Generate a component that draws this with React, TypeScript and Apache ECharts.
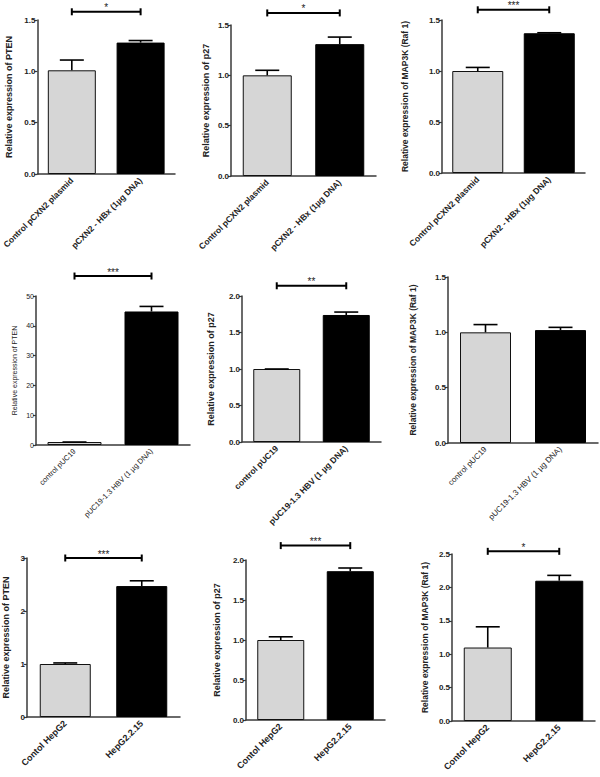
import React, { useEffect, useRef } from "react";
import * as echarts from "echarts";

// Categories
const catsPCXN2 = ["Control pCXN2 plasmid", "pCXN2 - HBx (1µg DNA)"];
const catsPUC19 = ["control pUC19", "pUC19-1.3 HBV (1 µg DNA)"];
const catsHepG2 = ["Contol HepG2", "HepG2.2.15"];

// Means and SEM (upper error) per panel
const pcxnPTEN = [1.01, 1.28];
const pcxnPTENErr = [0.1, 0.02];
const pcxnP27 = [1.0, 1.31];
const pcxnP27Err = [0.05, 0.07];
const pcxnMAP3K = [1.0, 1.37];
const pcxnMAP3KErr = [0.035, 0.005];
const pucPTEN = [1.0, 44.8];
const pucPTENErr = [0.0, 1.7];
const pucP27 = [1.0, 1.74];
const pucP27Err = [0.0, 0.04];
const pucMAP3K = [1.0, 1.02];
const pucMAP3KErr = [0.07, 0.025];
const hepPTEN = [1.0, 2.47];
const hepPTENErr = [0.02, 0.1];
const hepP27 = [1.0, 1.86];
const hepP27Err = [0.04, 0.04];
const hepMAP3K = [1.1, 2.1];
const hepMAP3KErr = [0.31, 0.08];

// Axis names
const yNamePTEN = "Relative expression of PTEN";
const yNameP27 = "Relative expression of p27";
const yNameMAP3K = "Relative expression of MAP3K (Raf 1)";

// Axis ranges
const yMaxes = [1.5, 1.5, 1.5, 50, 2, 1.5, 3, 2, 2.5];
const yIntervals = [0.5, 0.5, 0.5, 10, 0.5, 0.5, 1, 0.5, 0.5];
const yDecimals = [1, 1, 1, 0, 1, 1, 0, 1, 1];

// Significance marks and the level of their bracket
const sigMarks = ["*", "*", "***", "***", "**", "", "***", "***", "*"];
const sigLevels = [1.58, 1.62, 1.6, 56.7, 2.14, 0, 3.0, 2.18, 2.54];

const panelData = [
  { cats: catsPCXN2, vals: pcxnPTEN, errs: pcxnPTENErr, name: yNamePTEN },
  { cats: catsPCXN2, vals: pcxnP27, errs: pcxnP27Err, name: yNameP27 },
  { cats: catsPCXN2, vals: pcxnMAP3K, errs: pcxnMAP3KErr, name: yNameMAP3K },
  { cats: catsPUC19, vals: pucPTEN, errs: pucPTENErr, name: yNamePTEN },
  { cats: catsPUC19, vals: pucP27, errs: pucP27Err, name: yNameP27 },
  { cats: catsPUC19, vals: pucMAP3K, errs: pucMAP3KErr, name: yNameMAP3K },
  { cats: catsHepG2, vals: hepPTEN, errs: hepPTENErr, name: yNamePTEN },
  { cats: catsHepG2, vals: hepP27, errs: hepP27Err, name: yNameP27 },
  { cats: catsHepG2, vals: hepMAP3K, errs: hepMAP3KErr, name: yNameMAP3K },
];

// Layout (pixels)
const gridBoxes = [
  [35, 20, 140, 154],
  [231, 25, 145, 151],
  [442, 20, 143, 153],
  [36, 296, 154, 149],
  [242, 296, 139, 146],
  [448, 277, 150, 166],
  [27, 558, 153, 159],
  [246, 560, 139, 160],
  [452, 554, 143, 167],
];
const barWidths = [48, 49, 51, 54, 47, 51, 51, 47, 48];
const nameGaps = [24, 21, 33, 18, 27, 31, 17, 25, 23];
const nameSizes = [9, 9, 8.5, 7, 9, 8.5, 9, 9, 8.5];
const nameBold = [true, true, true, false, true, true, true, true, true];
const xLabelSizes = [8.5, 8.5, 8.5, 7.5, 8.5, 8, 9, 9, 9];
const xLabelBold = [true, true, true, false, true, false, true, true, true];

const FONT = "'Liberation Sans', Arial, sans-serif";
const AXIS_COLOR = "#3a3a3a";

export default function App() {
  const ref = useRef<HTMLDivElement>(null);
  useEffect(() => {
    document.body.style.margin = "0";
    if (!ref.current) return;
    const chart = echarts.init(ref.current, null, { renderer: "svg" });

    const grid: any[] = [];
    const xAxis: any[] = [];
    const yAxis: any[] = [];
    const series: any[] = [];

    panelData.forEach((p, i) => {
      const [l, t, w, h] = gridBoxes[i];
      grid.push({ left: l, top: t, width: w, height: h, containLabel: false });
      xAxis.push({
        type: "category",
        gridIndex: i,
        data: p.cats,
        axisLine: { lineStyle: { color: AXIS_COLOR, width: 1.5 } },
        axisTick: { alignWithLabel: true, length: 4, lineStyle: { color: AXIS_COLOR, width: 1.2 } },
        axisLabel: {
          rotate: 45,
          interval: 0,
          margin: 5,
          fontSize: xLabelSizes[i],
          fontWeight: xLabelBold[i] ? "bold" : "normal",
          color: "#222",
          fontFamily: FONT,
        },
        splitLine: { show: false },
      });
      const dec = yDecimals[i];
      yAxis.push({
        type: "value",
        gridIndex: i,
        min: 0,
        max: yMaxes[i],
        interval: yIntervals[i],
        axisLine: { show: true, lineStyle: { color: AXIS_COLOR, width: 1.5 } },
        axisTick: { show: true, length: 3, lineStyle: { color: AXIS_COLOR, width: 1.2 } },
        splitLine: { show: false },
        axisLabel: {
          margin: 2,
          fontSize: i === 3 ? 7 : 8,
          fontWeight: i === 3 ? "normal" : "bold",
          color: "#222",
          fontFamily: FONT,
          formatter: (v: number) => v.toFixed(dec),
        },
        name: p.name,
        nameLocation: "middle",
        nameGap: nameGaps[i],
        nameTextStyle: {
          fontSize: nameSizes[i],
          fontWeight: nameBold[i] ? "bold" : "normal",
          color: "#222",
          fontFamily: FONT,
        },
      });

      series.push({
        type: "bar",
        xAxisIndex: i,
        yAxisIndex: i,
        barWidth: barWidths[i],
        data: p.vals.map((v, k) => ({
          value: v,
          itemStyle:
            k === 0
              ? { color: "#d6d6d6", borderColor: "#111", borderWidth: 1 }
              : { color: "#000", borderColor: "#000", borderWidth: 1 },
        })),
        z: 2,
      });

      series.push({
        type: "custom",
        xAxisIndex: i,
        yAxisIndex: i,
        z: 3,
        encode: { x: 0, y: [1, 2] },
        data: p.vals.map((v, k) => [k, v, v + p.errs[k]]),
        renderItem: (params: any, api: any) => {
          const idx = api.value(0);
          const base = api.coord([idx, api.value(1)]);
          const top = api.coord([idx, api.value(2)]);
          const half = 12;
          const style = { stroke: "#000", lineWidth: 1.6 };
          return {
            type: "group",
            children: [
              { type: "line", shape: { x1: base[0], y1: base[1], x2: top[0], y2: top[1] }, style },
              { type: "line", shape: { x1: top[0] - half, y1: top[1], x2: top[0] + half, y2: top[1] }, style },
            ],
          };
        },
      });

      if (sigMarks[i]) {
        const mark = sigMarks[i];
        series.push({
          type: "custom",
          xAxisIndex: i,
          yAxisIndex: i,
          z: 4,
          clip: false,
          encode: { x: 0, y: 1 },
          data: [[0, sigLevels[i]]],
          renderItem: (params: any, api: any) => {
            const y = api.value(1);
            const a = api.coord([0, y]);
            const b = api.coord([1, y]);
            const style = { stroke: "#000", lineWidth: 2 };
            return {
              type: "group",
              children: [
                { type: "line", shape: { x1: a[0], y1: a[1], x2: b[0], y2: b[1] }, style },
                { type: "line", shape: { x1: a[0], y1: a[1] - 3.5, x2: a[0], y2: a[1] + 3.5 }, style },
                { type: "line", shape: { x1: b[0], y1: b[1] - 3.5, x2: b[0], y2: b[1] + 3.5 }, style },
                {
                  type: "text",
                  x: (a[0] + b[0]) / 2,
                  y: a[1] - 4,
                  style: {
                    text: mark,
                    fontSize: 10,
                    fontFamily: FONT,
                    fill: "#222",
                    align: "center",
                    verticalAlign: "middle",
                  },
                },
              ],
            };
          },
        });
      }
    });

    chart.setOption({
      animation: false,
      backgroundColor: "#fff",
      grid,
      xAxis,
      yAxis,
      series,
    });
    return () => chart.dispose();
  }, []);
  return <div ref={ref} style={{ width: 600, height: 777 }} />;
}
